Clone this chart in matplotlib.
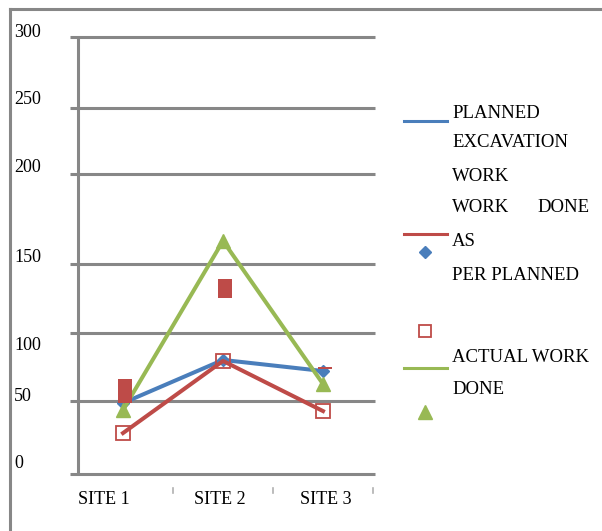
import matplotlib
matplotlib.use("Agg")
import matplotlib.pyplot as plt
from matplotlib.lines import Line2D
from matplotlib.transforms import blended_transform_factory

plt.rcParams["font.family"] = ["Liberation Serif", "DejaVu Serif"]
plt.rcParams["font.size"] = 13

# --- data ---
sites = ["SITE 1", "SITE 2", "SITE 3"]
planned = [48.7, 78.3, 70.7]
work_as_planned = [28.1, 77.6, 43.2]
actual = [43.9, 160.0, 61.8]
# stray filled red blocks in the original render (bottom, top)
block_low = [48.7, 120.8, 72.1]
block_high = [65.2, 133.9, 73.4]

# the original's y gridlines and tick labels are not evenly spaced
grid_levels = [0, 50, 97, 144, 206, 251, 300]
ytick_labels = ["300", "250", "200", "150", "100", "50", "0"]
ytick_pos = [303.4, 257.4, 210.1, 148.3, 87.9, 52.9, 6.9]
site_label_x = [0.81, 1.97, 3.03]

BLUE = "#4A7EBB"
RED = "#BE4B48"
GREEN = "#98B954"
GRAY = "#878787"

W, H = 602, 531
fig = plt.figure(figsize=(W / 100, H / 100), dpi=100)

ax = fig.add_axes([70 / W, (H - 474) / H, 305 / W, 437 / H])
ax.set_xlim(0.47, 3.52)
ax.set_ylim(0, 300)
ax.axis("off")

x = [1, 2, 3]

# grid + value axis
ax.hlines(grid_levels, 0.47, 3.52, color=GRAY, lw=2.2, clip_on=False, zorder=1)
ax.vlines(0.55, 0, 300, color=GRAY, lw=2.2, clip_on=False, zorder=1)

# category separators below the axis
for b in [1.5, 2.5, 3.5]:
    ax.plot([b, b], [-9.6, -13], color="#B0B0B0", lw=1.2, clip_on=False)

ax.plot(x, planned, color=BLUE, lw=2.9, marker="D", ms=6,
        mfc=BLUE, mec=BLUE, zorder=3, clip_on=False)
ax.plot(x, work_as_planned, color=RED, lw=2.9, zorder=4, clip_on=False)
ax.plot(x, work_as_planned, ls="none", marker="s", ms=10, mfc="none",
        mec=RED, mew=1.3, zorder=4, clip_on=False)
ax.plot(x, actual, color=GREEN, lw=2.9, marker="^", ms=10,
        mfc=GREEN, mec=GREEN, zorder=5, clip_on=False)

heights = [h - l for l, h in zip(block_low, block_high)]
ax.bar([v + 0.02 for v in x], heights, bottom=block_low, width=0.14,
       color=RED, zorder=6)

# y labels sit at the far left, inside the outer frame
ylab_tr = blended_transform_factory(fig.transFigure, ax.transData)
for lab, yp in zip(ytick_labels, ytick_pos):
    ax.text(14 / W, yp, lab, transform=ylab_tr, ha="left", va="center",
            fontsize=13)

for lab, xp in zip(sites, site_label_x):
    ax.text(xp, -17.8, lab, ha="center", va="center", fontsize=13, clip_on=False)

# outer frame of the original chart area
fig.add_artist(Line2D([10 / W, 10 / W], [0, 1 - 9 / H], color=GRAY, lw=2.2,
                      transform=fig.transFigure))
fig.add_artist(Line2D([10 / W, 1], [1 - 9 / H, 1 - 9 / H], color=GRAY, lw=2.2,
                      transform=fig.transFigure))


# legend, laid out like the original (lines and markers split apart)
def fx(px):
    return px / W


def fy(py):
    return 1 - py / H


for col, ly in [(BLUE, 121), (RED, 234), (GREEN, 368)]:
    fig.add_artist(Line2D([fx(404), fx(447)], [fy(ly), fy(ly)], color=col,
                          lw=2.2, transform=fig.transFigure))
fig.add_artist(Line2D([fx(425)], [fy(252)], marker="D", ms=6, color=BLUE,
                      ls="none", transform=fig.transFigure))
fig.add_artist(Line2D([fx(425)], [fy(331)], marker="s", ms=8, mfc="none",
                      mec=RED, mew=1.3, ls="none", transform=fig.transFigure))
fig.add_artist(Line2D([fx(425)], [fy(412)], marker="^", ms=10, color=GREEN,
                      ls="none", transform=fig.transFigure))

legend_lines = [("PLANNED", 113), ("EXCAVATION", 143), ("WORK", 177),
                ("WORK", 208), ("AS", 242), ("PER PLANNED", 275),
                ("ACTUAL WORK", 358), ("DONE", 390)]
for txt, ly in legend_lines:
    fig.text(fx(452), fy(ly), txt, ha="left", va="center", fontsize=13.5)
fig.text(fx(590), fy(208), "DONE", ha="right", va="center", fontsize=13.5)

fig.savefig("out.png", dpi=100)
